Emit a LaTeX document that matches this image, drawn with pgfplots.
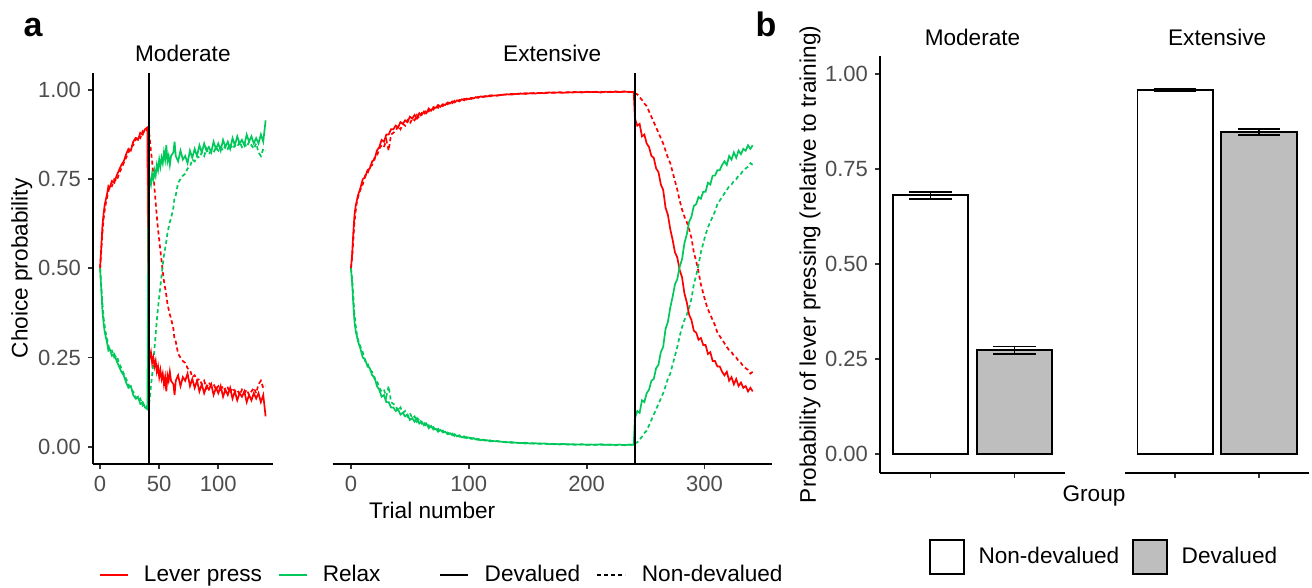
\documentclass[border=0pt]{standalone}
\usepackage{fontspec}
\setmainfont{Liberation Sans}
\usepackage{pgfplots}
\usepackage{pgfplotstable}
\pgfplotsset{compat=1.18}
\definecolor{relaxgreen}{RGB}{0,200,90}
\definecolor{barfill}{RGB}{190,190,190}
\definecolor{tickgray}{RGB}{77,77,77}
\newcommand{\lfont}{\fontsize{11.3}{13.5}\selectfont}

\pgfplotstableread{
t rs rd gs gd
0 0.50 0.50 0.50 0.50
1 0.56 0.55 0.44 0.45
2 0.62 0.60 0.38 0.40
3 0.655 0.64 0.345 0.36
4 0.68 0.665 0.32 0.335
5 0.695 0.685 0.305 0.315
6 0.71 0.70 0.29 0.30
7 0.73 0.715 0.27 0.285
8 0.725 0.73 0.275 0.27
10 0.745 0.73 0.255 0.27
12 0.74 0.75 0.26 0.25
14 0.76 0.745 0.24 0.255
16 0.775 0.765 0.225 0.235
18 0.79 0.78 0.21 0.22
20 0.80 0.795 0.20 0.205
22 0.82 0.81 0.18 0.19
24 0.835 0.825 0.165 0.175
26 0.83 0.84 0.17 0.16
28 0.855 0.845 0.145 0.155
30 0.865 0.86 0.135 0.14
32 0.86 0.87 0.14 0.13
34 0.88 0.865 0.12 0.135
36 0.875 0.885 0.125 0.115
38 0.89 0.88 0.11 0.12
40 0.895 0.89 0.105 0.11
41 0.27 0.89 0.73 0.11
42 0.25 0.865 0.75 0.135
43 0.265 0.83 0.735 0.17
44 0.235 0.80 0.765 0.20
45 0.25 0.765 0.75 0.235
46 0.225 0.725 0.775 0.275
47 0.24 0.685 0.76 0.315
48 0.21 0.645 0.79 0.355
49 0.225 0.61 0.775 0.39
50 0.195 0.58 0.805 0.42
51 0.215 0.55 0.785 0.45
52 0.19 0.52 0.81 0.48
53 0.205 0.49 0.795 0.51
54 0.175 0.465 0.825 0.535
55 0.195 0.445 0.805 0.555
56 0.155 0.425 0.845 0.575
57 0.20 0.40 0.80 0.60
58 0.185 0.385 0.815 0.615
59 0.21 0.37 0.79 0.63
60 0.185 0.36 0.815 0.64
62 0.175 0.33 0.825 0.67
63 0.145 0.30 0.855 0.70
64 0.185 0.295 0.815 0.705
66 0.20 0.26 0.80 0.74
68 0.17 0.25 0.83 0.75
70 0.195 0.24 0.805 0.76
72 0.185 0.235 0.815 0.765
74 0.205 0.22 0.795 0.78
76 0.17 0.215 0.83 0.785
78 0.19 0.195 0.81 0.805
80 0.165 0.20 0.835 0.80
82 0.185 0.185 0.815 0.815
84 0.155 0.19 0.845 0.81
86 0.175 0.175 0.825 0.825
88 0.15 0.185 0.85 0.815
90 0.17 0.165 0.83 0.835
92 0.16 0.18 0.84 0.82
94 0.175 0.17 0.825 0.83
96 0.145 0.175 0.855 0.825
98 0.165 0.16 0.835 0.84
100 0.15 0.17 0.85 0.83
102 0.17 0.16 0.83 0.84
104 0.14 0.17 0.86 0.83
106 0.16 0.155 0.84 0.845
108 0.145 0.165 0.855 0.835
110 0.165 0.15 0.835 0.85
112 0.135 0.165 0.865 0.835
114 0.155 0.155 0.845 0.845
116 0.13 0.16 0.87 0.84
118 0.15 0.145 0.85 0.855
120 0.14 0.16 0.86 0.84
122 0.155 0.15 0.845 0.85
124 0.125 0.16 0.875 0.84
126 0.145 0.145 0.855 0.855
128 0.13 0.155 0.87 0.845
130 0.15 0.165 0.85 0.835
132 0.135 0.15 0.865 0.85
134 0.15 0.175 0.85 0.825
136 0.125 0.185 0.875 0.815
138 0.145 0.165 0.855 0.835
140 0.085 0.17 0.915 0.83
}\moddata

\pgfplotstableread{
t rs rd gs gd
0 0.50 0.50 0.50 0.50
1 0.54 0.53 0.46 0.47
2 0.60 0.58 0.40 0.42
3 0.65 0.63 0.35 0.37
4 0.675 0.66 0.325 0.34
5 0.69 0.685 0.31 0.315
6 0.705 0.70 0.295 0.30
8 0.725 0.72 0.275 0.28
10 0.75 0.735 0.25 0.265
12 0.755 0.76 0.245 0.24
14 0.775 0.765 0.225 0.235
16 0.78 0.785 0.22 0.215
18 0.80 0.79 0.20 0.21
20 0.805 0.81 0.195 0.19
22 0.83 0.815 0.17 0.185
24 0.84 0.835 0.16 0.165
26 0.86 0.845 0.14 0.155
28 0.855 0.84 0.145 0.16
30 0.875 0.86 0.125 0.14
32 0.875 0.83 0.125 0.17
34 0.89 0.875 0.11 0.125
36 0.89 0.88 0.11 0.12
38 0.90 0.885 0.10 0.115
40 0.895 0.90 0.105 0.10
42 0.91 0.89 0.09 0.11
44 0.905 0.905 0.095 0.095
46 0.915 0.90 0.085 0.10
48 0.91 0.915 0.09 0.085
50 0.925 0.905 0.075 0.095
52 0.92 0.92 0.08 0.08
54 0.93 0.915 0.07 0.085
56 0.92 0.93 0.08 0.07
58 0.935 0.92 0.065 0.08
60 0.93 0.935 0.07 0.065
62 0.94 0.93 0.06 0.07
64 0.935 0.945 0.065 0.055
66 0.948 0.94 0.052 0.06
68 0.942 0.95 0.058 0.05
70 0.952 0.945 0.048 0.055
72 0.95 0.955 0.05 0.045
74 0.958 0.95 0.042 0.05
76 0.953 0.96 0.047 0.04
78 0.96 0.955 0.04 0.045
80 0.958 0.963 0.042 0.037
82 0.965 0.96 0.035 0.04
84 0.962 0.967 0.038 0.033
86 0.968 0.963 0.032 0.037
88 0.965 0.97 0.035 0.03
90 0.971 0.967 0.029 0.033
92 0.968 0.972 0.032 0.028
94 0.974 0.97 0.026 0.03
96 0.971 0.975 0.029 0.025
98 0.976 0.973 0.024 0.027
100 0.974 0.977 0.026 0.023
102 0.978 0.975 0.022 0.025
104 0.976 0.979 0.024 0.021
106 0.98 0.977 0.02 0.023
108 0.978 0.981 0.022 0.019
110 0.982 0.979 0.018 0.021
112 0.98 0.982 0.02 0.018
114 0.983 0.981 0.017 0.019
116 0.982 0.984 0.018 0.016
118 0.985 0.982 0.015 0.018
120 0.984 0.985 0.016 0.015
124 0.985 0.984 0.015 0.016
128 0.986 0.987 0.014 0.013
132 0.988 0.987 0.012 0.013
136 0.987 0.989 0.013 0.011
140 0.989 0.988 0.011 0.012
144 0.99 0.99 0.01 0.01
148 0.989 0.991 0.011 0.009
152 0.991 0.99 0.009 0.01
156 0.99 0.992 0.01 0.008
160 0.992 0.991 0.008 0.009
164 0.991 0.992 0.009 0.008
168 0.993 0.992 0.007 0.008
172 0.992 0.993 0.008 0.007
176 0.993 0.994 0.007 0.006
180 0.992 0.993 0.008 0.007
184 0.994 0.993 0.006 0.007
188 0.993 0.994 0.007 0.006
192 0.994 0.995 0.006 0.005
196 0.993 0.994 0.007 0.006
200 0.995 0.994 0.005 0.006
204 0.994 0.995 0.006 0.005
208 0.995 0.994 0.005 0.006
212 0.993 0.995 0.007 0.005
216 0.995 0.994 0.005 0.006
220 0.994 0.995 0.006 0.005
224 0.995 0.996 0.005 0.004
228 0.994 0.995 0.006 0.005
232 0.996 0.995 0.004 0.005
236 0.994 0.995 0.006 0.005
240 0.995 0.994 0.005 0.006
241 0.92 0.99 0.08 0.01
243 0.90 0.988 0.10 0.012
245 0.905 0.98 0.095 0.02
247 0.87 0.972 0.13 0.028
249 0.875 0.962 0.125 0.038
251 0.85 0.955 0.15 0.045
253 0.84 0.94 0.16 0.06
255 0.815 0.925 0.185 0.075
257 0.81 0.91 0.19 0.09
259 0.78 0.895 0.22 0.105
261 0.77 0.88 0.23 0.12
263 0.735 0.865 0.265 0.135
265 0.72 0.85 0.28 0.15
267 0.67 0.83 0.33 0.17
269 0.65 0.81 0.35 0.19
271 0.61 0.795 0.39 0.205
273 0.58 0.77 0.42 0.23
275 0.545 0.745 0.455 0.255
277 0.53 0.72 0.47 0.28
279 0.495 0.69 0.505 0.31
281 0.475 0.665 0.525 0.335
283 0.43 0.645 0.57 0.355
285 0.405 0.63 0.595 0.37
287 0.37 0.61 0.63 0.39
289 0.355 0.585 0.645 0.415
291 0.325 0.545 0.675 0.455
293 0.32 0.52 0.68 0.48
295 0.30 0.49 0.70 0.51
297 0.305 0.455 0.695 0.545
299 0.285 0.43 0.715 0.57
301 0.285 0.405 0.715 0.595
303 0.26 0.385 0.74 0.615
305 0.265 0.37 0.735 0.63
307 0.24 0.355 0.76 0.645
309 0.24 0.34 0.76 0.66
311 0.225 0.32 0.775 0.68
313 0.225 0.31 0.775 0.69
315 0.21 0.30 0.79 0.70
317 0.20 0.29 0.80 0.71
319 0.21 0.28 0.79 0.72
321 0.185 0.27 0.815 0.73
323 0.195 0.265 0.805 0.735
325 0.175 0.255 0.825 0.745
327 0.19 0.25 0.81 0.75
329 0.17 0.24 0.83 0.76
331 0.18 0.235 0.82 0.765
333 0.165 0.225 0.835 0.775
335 0.17 0.22 0.83 0.78
337 0.155 0.215 0.845 0.785
339 0.165 0.205 0.835 0.795
341 0.155 0.21 0.845 0.79
}\extdata

\pgfplotsset{
  facet/.style={
    scale only axis, clip=false,
    tick align=outside, major tick length=2.5pt,
    tick style={line width=0.9pt, black!80},
    axis line style={line width=0.9pt, black},
    tick label style={font=\fontsize{11}{13}\selectfont, text=tickgray},
    /pgf/number format/assume math mode=true,
    title style={at={(0.5,1)}, anchor=center, yshift=3.5pt, font=\lfont},
  },
  yprob/.style={
    ytick={0,0.25,0.5,0.75,1},
    yticklabel style={/pgf/number format/.cd, fixed, fixed zerofill, precision=2},
  },
  curve/.style={line width=0.85pt, forget plot},
  dott/.style={dash pattern=on 2pt off 1.5pt},
  ebar/.style={error bars/.cd, y dir=both, y explicit, error mark=|,
    error bar style={line width=0.9pt, black},
    error mark options={black, line width=0.9pt, mark size=10.6pt}},
}

\begin{document}
\begin{tikzpicture}
\useasboundingbox (0,0) rectangle (656pt,294pt);

% ---------- panel a, Moderate ----------
\begin{axis}[facet, yprob,
  at={(46.5pt,62pt)}, anchor=south west, width=89.85pt, height=195.65pt,
  xmin=-6, xmax=146, ymin=-0.0485, ymax=1.0485,
  axis x line*=bottom, axis y line*=left, xtick={0,50,100},
  title={Moderate},
  ylabel={Choice probability},
  every axis y label/.style={at={(axis description cs:-0.3968,0.5)}, rotate=90, anchor=center, font=\lfont},
  legend style={draw=none, fill=none, at={(axis description cs:0.035,-0.2837)}, anchor=west,
    inner sep=0pt, outer sep=0pt, nodes={inner sep=0pt, font=\lfont, text=black},
    /tikz/every odd column/.append style={column sep=7.5pt},
    /tikz/every even column/.append style={column sep=8pt}},
  legend columns=-1,
  legend image code/.code={\draw[#1] (0pt,0pt) -- (14pt,0pt);},
]
\addlegendimage{red, line width=0.85pt}\addlegendentry{Lever press}
\addlegendimage{relaxgreen, line width=0.85pt}\addlegendentry{Relax}
\addplot[curve, red, dott] table[x=t, y=rd] {\moddata};
\addplot[curve, relaxgreen, dott] table[x=t, y=gd] {\moddata};
\addplot[curve, red] table[x=t, y=rs] {\moddata};
\addplot[curve, relaxgreen] table[x=t, y=gs] {\moddata};
\addplot[black, line width=1pt, forget plot] coordinates {(41,-0.0485) (41,1.0485)};
\end{axis}

% ---------- panel a, Extensive ----------
\begin{axis}[facet,
  at={(166.35pt,62pt)}, anchor=south west, width=219.5pt, height=195.65pt,
  xmin=-15.5, xmax=357.1, ymin=-0.0485, ymax=1.0485,
  axis x line*=bottom, axis y line=none, ytick=\empty,
  xtick={0,100,200,300},
  title={Extensive},
  xlabel={Trial number},
  every axis x label/.style={at={(axis description cs:0.2267,-0.1176)}, anchor=center, font=\lfont},
  legend style={draw=none, fill=none, at={(axis description cs:0.2421,-0.2837)}, anchor=west,
    inner sep=0pt, outer sep=0pt, nodes={inner sep=0pt, font=\lfont, text=black},
    /tikz/every odd column/.append style={column sep=8pt},
    /tikz/every even column/.append style={column sep=8pt}},
  legend columns=-1,
  legend image code/.code={\draw[#1] (0pt,0pt) -- (14pt,0pt);},
]
\addlegendimage{black, line width=0.85pt}\addlegendentry{Devalued}
\addlegendimage{black, line width=0.85pt, dott}\addlegendentry{Non-devalued}
\addplot[curve, red, dott] table[x=t, y=rd] {\extdata};
\addplot[curve, relaxgreen, dott] table[x=t, y=gd] {\extdata};
\addplot[curve, red] table[x=t, y=rs] {\extdata};
\addplot[curve, relaxgreen] table[x=t, y=gs] {\extdata};
\addplot[black, line width=1pt, forget plot] coordinates {(241,-0.0485) (241,1.0485)};
\end{axis}

% ---------- panel b, Moderate ----------
\begin{axis}[facet, yprob,
  at={(440pt,57.65pt)}, anchor=south west, width=92.5pt, height=208.35pt,
  xmin=0.4, xmax=2.6, ymin=-0.05, ymax=1.0474,
  axis x line*=bottom, axis y line*=left, xtick={1,2}, xticklabels={,,},
  title={Moderate},
  ylabel={Probability of lever pressing (relative to training)},
  every axis y label/.style={at={(axis description cs:-0.378,0.5)}, rotate=90, anchor=center, font=\lfont},
  xlabel={Group},
  every axis x label/.style={at={(axis description cs:1.1568,-0.0559)}, anchor=center, font=\lfont},
  legend style={draw=none, fill=none, at={(axis description cs:0.2649,-0.2023)}, anchor=west,
    inner sep=0pt, outer sep=0pt, nodes={inner sep=0pt, font=\lfont, text=black},
    /tikz/every odd column/.append style={column sep=6.85pt},
    /tikz/every even column/.append style={column sep=6.5pt}},
  legend columns=-1,
  legend image code/.code={\draw[#1, line width=0.9pt] (0pt,-8.5pt) rectangle (17pt,8.5pt);},
]
\addlegendimage{draw=black, fill=white}\addlegendentry{Non-devalued}
\addlegendimage{draw=black, fill=barfill}\addlegendentry{Devalued}
\addplot[ybar, bar width=0.9, bar shift=0pt, draw=black, fill=white, line width=0.9pt, forget plot, ebar]
  coordinates {(1,0.6805) +- (0,0.0095)};
\addplot[ybar, bar width=0.9, bar shift=0pt, draw=black, fill=barfill, line width=0.9pt, forget plot, ebar]
  coordinates {(2,0.2723) +- (0,0.010)};
\end{axis}

% ---------- panel b, Extensive ----------
\begin{axis}[facet,
  at={(562.5pt,57.65pt)}, anchor=south west, width=92.15pt, height=208.35pt,
  xmin=0.4, xmax=2.6, ymin=-0.05, ymax=1.0474,
  axis x line*=bottom, axis y line=none, ytick=\empty,
  xtick={1,2}, xticklabels={,,},
  title={Extensive},
]
\addplot[ybar, bar width=0.9, bar shift=0pt, draw=black, fill=white, line width=0.9pt, forget plot, ebar]
  coordinates {(1,0.958) +- (0,0.002)};
\addplot[ybar, bar width=0.9, bar shift=0pt, draw=black, fill=barfill, line width=0.9pt, forget plot, ebar]
  coordinates {(2,0.8465) +- (0,0.008)};
\end{axis}

\node[font=\fontsize{17}{20}\selectfont\bfseries, anchor=base] at (16.5pt,275.5pt) {a};
\node[font=\fontsize{17}{20}\selectfont\bfseries, anchor=base] at (383pt,275.5pt) {b};
\end{tikzpicture}
\end{document}
